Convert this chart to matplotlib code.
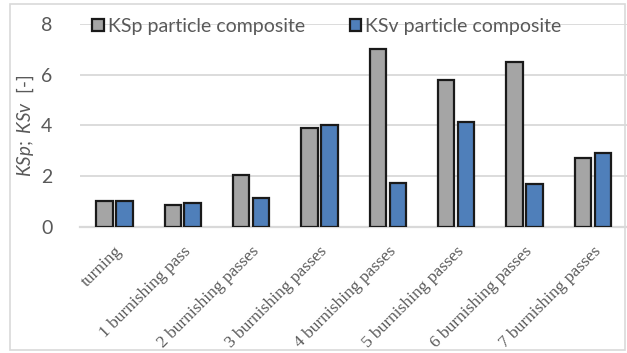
"""Grouped bar chart of KSp / KSv ratios for the particle composite."""

import matplotlib

matplotlib.use("Agg")
import matplotlib.pyplot as plt
import numpy as np
from matplotlib.patches import Rectangle

categories = [
    "turning",
    "1 burnishing pass",
    "2 burnishing passes",
    "3 burnishing passes",
    "4 burnishing passes",
    "5 burnishing passes",
    "6 burnishing passes",
    "7 burnishing passes",
]
ksp_values = [1.0, 0.84, 2.03, 3.91, 7.04, 5.78, 6.50, 2.70]
ksv_values = [1.0, 0.92, 1.13, 4.03, 1.72, 4.12, 1.69, 2.90]
series_labels = ["KSp particle composite", "KSv particle composite"]
y_ticks = [0, 2, 4, 6, 8]

GRAY = "#A5A5A5"
BLUE = "#4F7FBA"
TEXT = "#595959"
GRID = "#D9D9D9"

plt.rcParams["font.family"] = ["Lato", "DejaVu Sans"]
plt.rcParams["mathtext.fontset"] = "custom"
plt.rcParams["mathtext.it"] = "Lato:italic"
plt.rcParams["mathtext.rm"] = "Lato"

fig = plt.figure(figsize=(6.27, 3.53), dpi=100)
ax = fig.add_axes([0.128, 0.358, 0.872, 0.573])

x = np.arange(len(categories))
width = 0.24
offset = 0.145
ax.bar(x - offset, ksp_values, width, color=GRAY, edgecolor="#1a1a1a",
       linewidth=1.6, label=series_labels[0], zorder=3)
ax.bar(x + offset, ksv_values, width, color=BLUE, edgecolor="#1a1a1a",
       linewidth=1.6, label=series_labels[1], zorder=3)

ax.set_xlim(-0.5, len(categories) - 0.5)
ax.set_ylim(0, 8)
ax.set_yticks(y_ticks)
ax.yaxis.grid(True, color=GRID, linewidth=1.3, zorder=0)
ax.set_axisbelow(True)
for side in ("top", "right", "left"):
    ax.spines[side].set_visible(False)
ax.spines["bottom"].set_color(GRID)
ax.spines["bottom"].set_linewidth(1.6)
ax.tick_params(axis="both", length=0, colors=TEXT)
ax.tick_params(axis="y", labelsize=14, pad=20)

ax.set_xticks(x)
ax.set_xticklabels(categories, rotation=45, ha="right", rotation_mode="anchor",
                   family="Liberation Serif", fontsize=12.5, color=TEXT)
ax.tick_params(axis="x", pad=12)

ax.set_ylabel(r"$\mathit{KSp;\ KSv}$  [-]", fontsize=13.5, color=TEXT, labelpad=4)

ax.legend(loc="upper left", bbox_to_anchor=(0.008, 1.07), ncol=2, frameon=False,
          fontsize=14, labelcolor=TEXT, handlelength=0.6, handleheight=0.6,
          handletextpad=0.2, columnspacing=2.3, borderaxespad=0)

# light frame round the whole chart
fig.patches.append(Rectangle((10 / 627, 3 / 353), 615 / 627, 346 / 353,
                             transform=fig.transFigure, fill=False,
                             edgecolor=GRID, linewidth=1.2))

fig.savefig("out.png", dpi=100)
